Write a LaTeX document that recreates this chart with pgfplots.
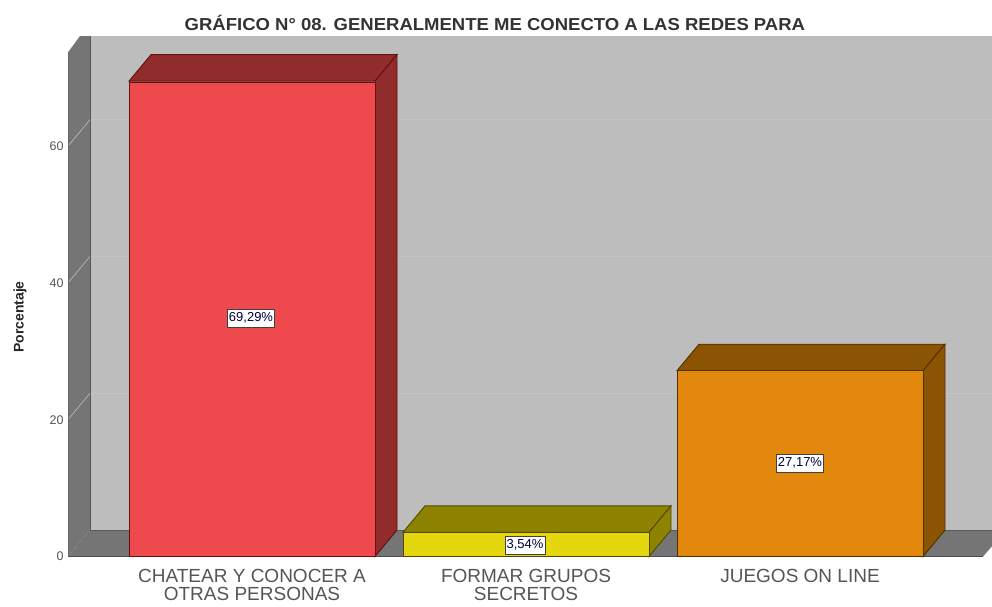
\documentclass[border=0pt]{standalone}
\usepackage{graphicx}
\usepackage{pgfplots}
\pgfplotsset{compat=1.18}
\usepackage{fontspec}
\setmainfont{Liberation Sans}
\definecolor{wallback}{HTML}{BDBDBD}
\definecolor{wallside}{HTML}{757575}
\definecolor{wallgrid}{HTML}{C4C4C4}
\definecolor{sidegrid}{HTML}{BEBEBE}
\definecolor{redF}{HTML}{EE494C}
\definecolor{redD}{HTML}{912C2C}
\definecolor{redE}{HTML}{64100F}
\definecolor{yelF}{HTML}{E4D70E}
\definecolor{yelD}{HTML}{8E8300}
\definecolor{yelE}{HTML}{4F4A00}
\definecolor{oraF}{HTML}{E2890D}
\definecolor{oraD}{HTML}{8B5403}
\definecolor{oraE}{HTML}{4F3000}
\definecolor{txt}{HTML}{555555}
\begin{document}
\begin{tikzpicture}
\path[use as bounding box] (0pt,0pt) rectangle (992pt,606pt);
\begin{axis}[
  at={(68pt,49.5pt)}, anchor=south west,
  scale only axis, width=924pt, height=520.5pt,
  xmin=68, xmax=992, ymin=0, ymax=76.1,
  clip=false,
  axis line style={draw=none},
  major tick length=0pt, tick pos=left,
  ytick={0,20,40,60},
  xtick={252,526,800},
  xticklabels={{CHATEAR Y CONOCER A\\OTRAS PERSONAS},{FORMAR GRUPOS\\SECRETOS},{JUEGOS ON LINE}},
  /pgf/number format/assume math mode=true,
  yticklabel style={font=\fontsize{12.5}{14}\selectfont,text=txt,xshift=-1pt},
  xticklabel style={font=\fontsize{19}{18.5}\selectfont,text=txt,align=center,anchor=north,yshift=-9pt},
  title={\scalebox{1.07}[1]{GRÁFICO N° 08. GENERALMENTE ME CONECTO A LAS REDES PARA}},
  title style={font=\fontsize{17.3}{20}\selectfont\bfseries,text=black!80,at={(0.462,1)},anchor=base,yshift=0pt},
  ylabel={Porcentaje},
  ylabel style={font=\fontsize{14}{15}\selectfont\bfseries,text=black!85,at={(-0.052,0.46)},anchor=center},
]
% walls and floor
\addplot[fill=wallback,draw=none] coordinates {(90,3.87)(90,76.1)(992,76.1)(992,3.87)} --cycle;
\addplot[fill=wallside,draw=none] coordinates {(68,0)(68,73.7)(80,76.1)(90,76.1)(90,3.87)} --cycle;
\addplot[fill=wallside,draw=none] coordinates {(68,0)(983,0)(992,1.5)(992,3.87)(90,3.87)} --cycle;
% grid on the walls
\addplot[draw=sidegrid,line width=0.6pt] coordinates {(68,20)(90,23.87)};
\addplot[draw=sidegrid,line width=0.6pt] coordinates {(68,40)(90,43.87)};
\addplot[draw=sidegrid,line width=0.6pt] coordinates {(68,60)(90,63.87)};
\addplot[draw=wallgrid,line width=0.6pt] coordinates {(90,23.87)(992,23.87)};
\addplot[draw=wallgrid,line width=0.6pt] coordinates {(90,43.87)(992,43.87)};
\addplot[draw=wallgrid,line width=0.6pt] coordinates {(90,63.87)(992,63.87)};
\addplot[draw=black!65,line width=1pt] coordinates {(90,76.1)(90,3.87)(992,3.87)};
\addplot[draw=black!70,line width=0.8pt] coordinates {(68,0)(983,0)};
\addplot[draw=black!60,line width=0.5pt] coordinates {(68,73.7)(68,0)};
% bar 1
\addplot[fill=redD,draw=redE,line width=0.9pt] coordinates {(129,69.5)(151,73.37)(397,73.37)(375,69.5)} --cycle;
\addplot[fill=redD,draw=redE,line width=0.9pt] coordinates {(375,0)(397,3.87)(397,73.37)(375,69.5)} --cycle;
\addplot[ybar,bar width=246,fill=redF,draw=redE,line width=0.9pt] coordinates {(252,69.29)};
% bar 2
\addplot[fill=yelD,draw=yelE,line width=0.9pt] coordinates {(403,3.54)(425,7.41)(671,7.41)(649,3.54)} --cycle;
\addplot[fill=yelD,draw=yelE,line width=0.9pt] coordinates {(649,0)(671,3.87)(671,7.41)(649,3.54)} --cycle;
\addplot[ybar,bar width=246,fill=yelF,draw=yelE,line width=0.9pt] coordinates {(526,3.54)};
% bar 3
\addplot[fill=oraD,draw=oraE,line width=0.9pt] coordinates {(677,27.17)(699,31.04)(945,31.04)(923,27.17)} --cycle;
\addplot[fill=oraD,draw=oraE,line width=0.9pt] coordinates {(923,0)(945,3.87)(945,31.04)(923,27.17)} --cycle;
\addplot[ybar,bar width=246,fill=oraF,draw=oraE,line width=0.9pt] coordinates {(800,27.17)};
% value labels
\addplot[draw=none,mark=none,point meta=explicit symbolic,
  nodes near coords,
  nodes near coords style={anchor=center,fill=white,draw=black!75,line width=0.6pt,inner xsep=1.5pt,inner ysep=3.5pt,font=\fontsize{13}{15}\selectfont,text=black!75!blue}]
  coordinates {(251,34.87)[69,29\%] (525,1.68)[3,54\%] (800,13.67)[27,17\%]};
\end{axis}
\end{tikzpicture}
\end{document}
